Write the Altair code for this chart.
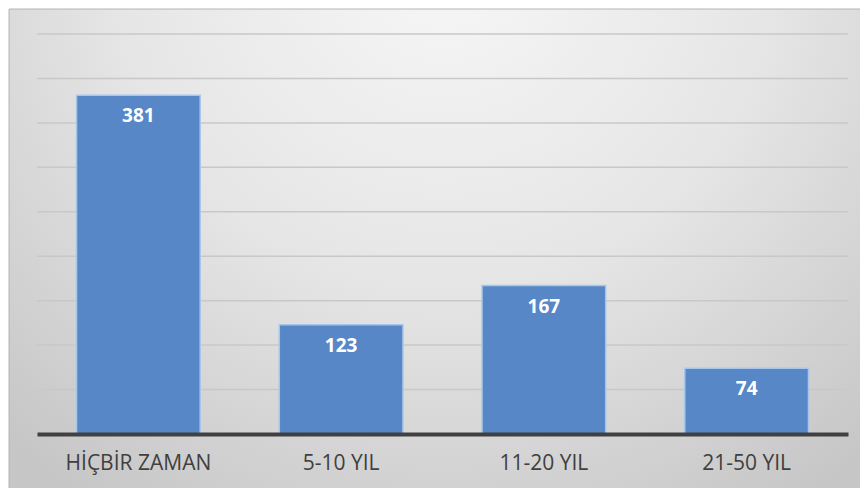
import altair as alt
import pandas as pd

categories = ["HİÇBİR ZAMAN", "5-10 YIL", "11-20 YIL", "21-50 YIL"]
values = [381, 123, 167, 74]
grid_values = [50, 100, 150, 200, 250, 300, 350, 400, 450]

df = pd.DataFrame({"cat": categories, "val": values})
gdf = pd.DataFrame({"g": grid_values})

W, H = 811, 400
PL, PT, PR, PB = 29, 26, 12, 54

bg = alt.Chart(pd.DataFrame({"a": [0]})).mark_rect(
    clip=False,
    stroke="#b4b4b4",
    strokeWidth=1,
    fill={
        "gradient": "radial",
        "x1": 0.5, "y1": 0.15, "r1": 0,
        "x2": 0.5, "y2": 0.15, "r2": 0.75,
        "stops": [
            {"offset": 0, "color": "#f7f7f7"},
            {"offset": 0.5, "color": "#e6e6e6"},
            {"offset": 1, "color": "#c6c6c6"},
        ],
    },
).encode(
    x=alt.value(-PL + 1), x2=alt.value(W + PR + 20),
    y=alt.value(-PT + 1), y2=alt.value(H + PB + 20),
)

yscale = alt.Scale(domain=[0, 450])

grid = alt.Chart(gdf).mark_rule(color="#c8c8c8", strokeWidth=1.5).encode(
    y=alt.Y("g:Q", scale=yscale, axis=None),
    x=alt.value(0), x2=alt.value(W),
)

xenc = alt.X("cat:N", sort=categories, title=None,
             scale=alt.Scale(paddingInner=0.39, paddingOuter=0.195),
             axis=alt.Axis(labelAngle=0, labelFontSize=21, labelColor="#404040",
                           labelFont="Open Sans", labelPadding=18, ticks=False,
                           labelLimit=300,
                           domainColor="#404040", domainWidth=4, zindex=2))
yenc = alt.Y("val:Q", title=None, scale=yscale, axis=None)

bars = alt.Chart(df).mark_bar(color="#5787c6", stroke="#a8c6ea", strokeWidth=1.5).encode(
    x=xenc, y=yenc
)

labels = alt.Chart(df).mark_text(
    dy=21, baseline="middle", fontSize=19, fontWeight="bold", font="Open Sans", color="white"
).encode(
    x=alt.X("cat:N", sort=categories),
    y=alt.Y("val:Q", scale=yscale),
    text="val:Q",
)

chart = alt.layer(bg, grid, bars, labels).properties(
    width=W, height=H,
    padding={"left": PL, "top": PT, "right": PR, "bottom": PB},
    autosize=alt.AutoSizeParams(type="none"),
).configure_view(stroke=None).configure(background="white")

chart.save("out.html", embed_options={"renderer": "svg", "actions": False})
